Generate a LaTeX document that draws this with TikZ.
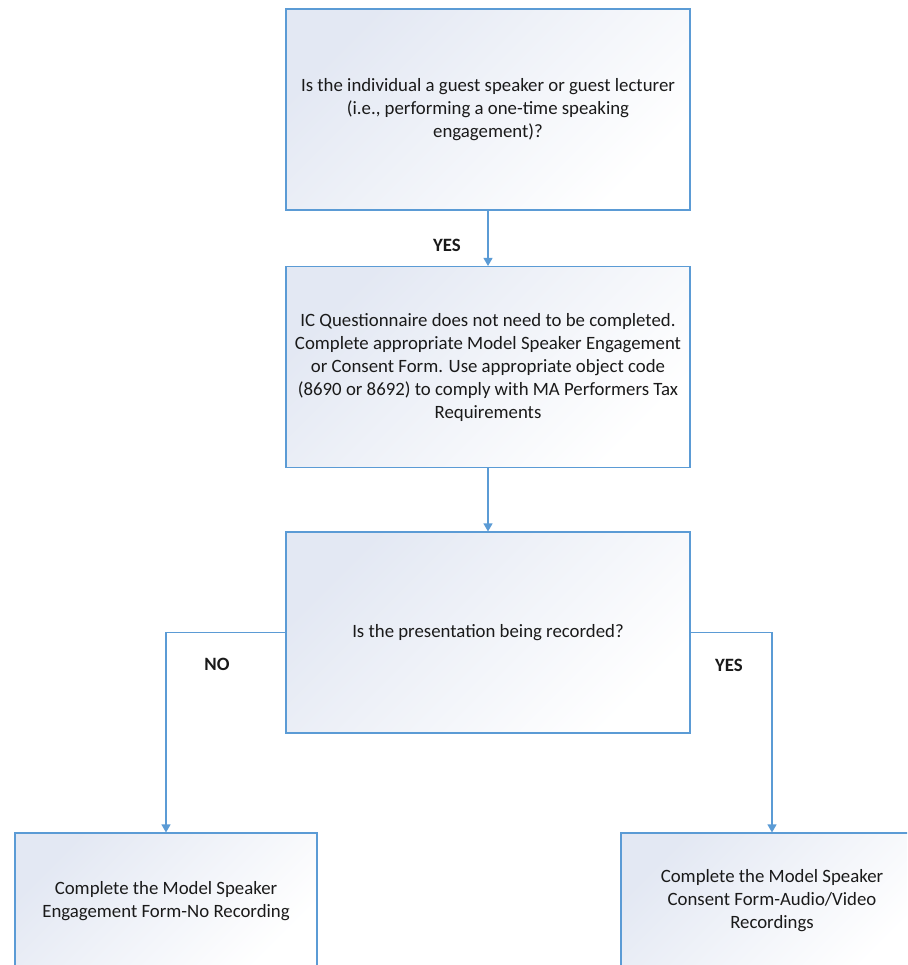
\documentclass[tikz,border=0pt]{standalone}
\usepackage{fontspec}
\setmainfont{Carlito}
\usetikzlibrary{arrows.meta}
\definecolor{boxline}{HTML}{5B9BD5}
\definecolor{boxshade}{HTML}{E3E8F3}
\definecolor{txt}{HTML}{1A1A1A}
\tikzset{
  box/.style={draw=boxline, line width=1.1pt, top color=boxshade, bottom color=white,
    shading angle=45, minimum width=404pt, minimum height=201pt, align=center,
    text=txt, inner sep=0pt, font=\fontsize{18.8}{23}\selectfont},
  endbox/.style={box, minimum width=302pt, minimum height=136pt},
  link/.style={draw=boxline, line width=1.1pt, -{Triangle[width=9pt,length=8pt]}},
  answer/.style={text=txt, font=\fontsize{18.8}{23}\selectfont\bfseries}
}

\begin{document}
\begin{tikzpicture}[x=1pt,y=-1pt]
			\useasboundingbox (0,0) rectangle (907,965);
			\clip (0,0) rectangle (907,965);
			
			% draw question boxes
			\node[box] (guest) at (488,109.5) {Is the individual a guest speaker or guest lecturer\\(i.e., performing a one-time speaking\\engagement)?};
			\node[box] (noform) at (488,367) {IC Questionnaire does not need to be completed.\\Complete appropriate Model Speaker Engagement\\or Consent Form. Use appropriate object code\\(8690 or 8692) to comply with MA Performers Tax\\Requirements};
			\node[box] (record) at (488,632.5) {Is the presentation being recorded?};
			
			% draw end boxes
			\node[endbox] (norec) at (166,901) {Complete the Model Speaker\\Engagement Form-No Recording};
			\node[endbox] (withrec) at (772,901) {Complete the Model Speaker\\Consent Form-Audio/Video\\Recordings};
			
			% draw connectors
			\draw[link] (guest) -- (noform);
			\draw[link] (noform) -- (record);
			\draw[link] (record.west) -| (norec.north);
			\draw[link] (record.east) -| (withrec.north);
			
			% draw answers
			\node[answer] (yesguest) at (447,245) {YES};
			\node[answer] (norecord) at (217,664) {NO};
			\node[answer] (yesrecord) at (729,665) {YES};
\end{tikzpicture}
\end{document}
